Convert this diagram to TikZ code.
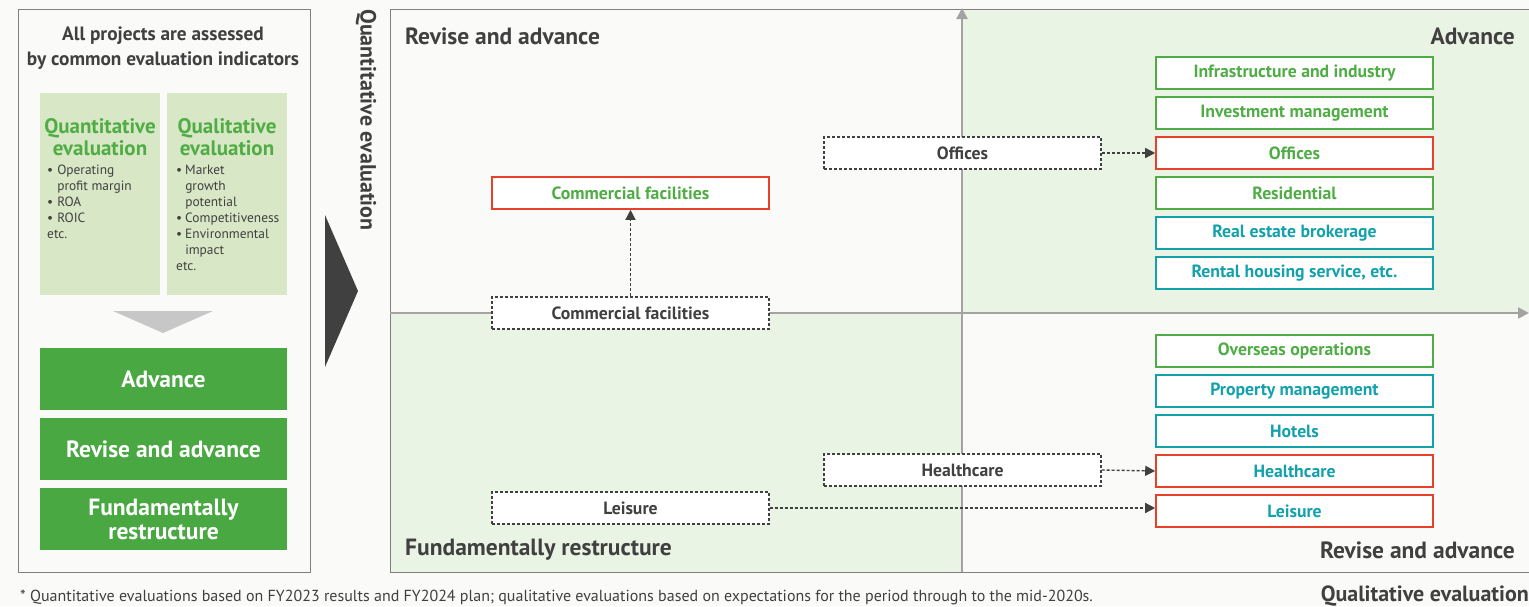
\documentclass[tikz,border=0pt]{standalone}
\usepackage{fontspec}
\setmainfont{PT Sans}
\usetikzlibrary{arrows.meta}
\definecolor{bg}{HTML}{FAFAF8}
\definecolor{dk}{HTML}{404040}
\definecolor{pborder}{HTML}{808080}
\definecolor{lgbox}{HTML}{D8E7C5}
\definecolor{gfill}{HTML}{49A842}
\definecolor{quad}{HTML}{EAF4E4}
\definecolor{axis}{HTML}{A3A3A3}
\definecolor{teal}{HTML}{13A1AC}
\definecolor{redb}{HTML}{E8402A}
\definecolor{gtx}{HTML}{50AD45}
\tikzset{
  bizbox/.style={minimum width=277pt,minimum height=32pt,inner sep=0pt,fill=white,line width=1.6pt,font=\fontsize{17.7}{19}\selectfont\bfseries},
  gbox/.style={bizbox,draw=gtx,text=gtx},
  tbox/.style={bizbox,draw=teal,text=teal},
  rgbox/.style={bizbox,draw=redb,text=gtx},
  rtbox/.style={bizbox,draw=redb,text=teal},
  dbox/.style={bizbox,draw=dk,text=dk,line width=1.4pt,dash pattern=on 3pt off 2pt},
  darr/.style={draw=dk,line width=1.4pt,dash pattern=on 3pt off 2pt,-{Triangle[length=10pt,width=10pt]}},
  head/.style={font=\fontsize{23.5}{26}\selectfont\bfseries,text=dk,inner sep=0pt},
  resbox/.style={fill=gfill,minimum width=247pt,minimum height=62pt,inner sep=0pt,text=white,align=center,font=\fontsize{23.5}{25}\selectfont\bfseries},
}
\begin{document}
\begin{tikzpicture}[x=1pt,y=-1pt]
\useasboundingbox (0,0) rectangle (1529,606);
\fill[bg] (0,0) rectangle (1529,606);
% left panel
\draw[pborder,line width=1pt,fill=bg] (18,9) rectangle (310,572);
\node[font=\fontsize{19.3}{25}\selectfont\bfseries,text=dk,align=center] (title) at (163,48.5) {All projects are assessed\\by common evaluation indicators};
\fill[lgbox] (40,93) rectangle (160,295);
\fill[lgbox] (167,93) rectangle (287,295);
\node[font=\fontsize{21}{22}\selectfont\bfseries,text=gtx,align=center] (qt) at (100,137) {Quantitative\\evaluation};
\node[font=\fontsize{21}{22}\selectfont\bfseries,text=gtx,align=center] (ql) at (227,137) {Qualitative\\evaluation};
\node[anchor=north west,inner sep=0pt,text=dk,font=\fontsize{13.4}{16}\selectfont] (qtl) at (47,163) {%
\begin{tabular}{@{}l@{\hspace{4pt}}l@{}}
\textbullet & Operating\\
 & profit margin\\
\textbullet & ROA\\
\textbullet & ROIC\\
\multicolumn{2}{@{}l}{etc.}
\end{tabular}};
\node[anchor=north west,inner sep=0pt,text=dk,font=\fontsize{13.4}{16}\selectfont] (qll) at (176,163) {%
\begin{tabular}{@{}l@{\hspace{3pt}}l@{}}
\textbullet & Market\\
 & growth\\
 & potential\\
\textbullet & Competitiveness\\
\textbullet & Environmental\\
 & impact\\
\multicolumn{2}{@{}l}{etc.}
\end{tabular}};
\fill[black!22] (113,311) -- (213,311) -- (163,333) -- cycle;
\node[resbox] (adv) at (163.5,379) {Advance};
\node[resbox] (rev) at (163.5,449) {Revise and advance};
\node[resbox,font=\fontsize{23.5}{24}\selectfont\bfseries] (fun) at (163.5,519) {Fundamentally\\restructure};
% big arrow
\fill[dk] (325,215) -- (358,291) -- (325,367) -- cycle;
\node[head,rotate=-90,font=\fontsize{22}{24}\selectfont\bfseries] (yl) at (366,120) {Quantitative evaluation};
% matrix
\fill[quad] (962,9) rectangle (1529,313);
\fill[quad] (390,313) rectangle (962,572);
\draw[pborder,line width=1pt] (1529,9) -- (390,9) -- (390,572) -- (1529,572);
\coordinate (ybot) at (962,572);
\coordinate (ytop) at (962,8);
\coordinate (xl) at (390,313);
\coordinate (xr) at (1529,313);
\draw[axis,line width=2.4pt,-{Triangle[length=11pt,width=11pt]}] (ybot) -- (ytop);
\draw[axis,line width=2.4pt,-{Triangle[length=11pt,width=11pt]}] (xl) -- (xr);
\node[head,anchor=west] (q1) at (405,36) {Revise and advance};
\node[head,anchor=east] (q2) at (1515,36) {Advance};
\node[head,anchor=west] (q3) at (405,550) {Fundamentally restructure};
\node[head,anchor=east] (q4) at (1515,550) {Revise and advance};
\node[head,anchor=east,font=\fontsize{22}{24}\selectfont\bfseries] (xlab) at (1529,596) {Qualitative evaluation};
\node[anchor=west,inner sep=0pt,text=dk,font=\fontsize{16}{18}\selectfont] (foot) at (20,597) {* Quantitative evaluations based on FY2023 results and FY2024 plan; qualitative evaluations based on expectations for the period through to the mid-2020s.};
% right boxes
\node[gbox] (infra) at (1294.5,73) {Infrastructure and industry};
\node[gbox] (inv) at (1294.5,113) {Investment management};
\node[rgbox] (offR) at (1294.5,153) {Offices};
\node[gbox] (res) at (1294.5,193) {Residential};
\node[tbox] (reb) at (1294.5,233) {Real estate brokerage};
\node[tbox] (rent) at (1294.5,273) {Rental housing service, etc.};
\node[gbox] (ovs) at (1294.5,351) {Overseas operations};
\node[tbox] (pm) at (1294.5,391) {Property management};
\node[tbox] (hot) at (1294.5,431) {Hotels};
\node[rtbox] (hcR) at (1294.5,471) {Healthcare};
\node[rtbox] (leiR) at (1294.5,511) {Leisure};
\node[rgbox] (comR) at (630.5,193) {Commercial facilities};
% dashed boxes
\node[dbox] (off) at (962.5,153) {Offices};
\node[dbox] (com) at (630.5,313) {Commercial facilities};
\node[dbox] (hc) at (962.5,470) {Healthcare};
\node[dbox] (lei) at (630.5,508) {Leisure};
\draw[darr] (off.east) -- (offR.west);
\draw[darr] (hc.east) -- (hcR.west);
\draw[darr] (lei.east) -- (lei.east -| leiR.west);
\draw[darr] (com.north) -- (comR.south);
\end{tikzpicture}
\end{document}
